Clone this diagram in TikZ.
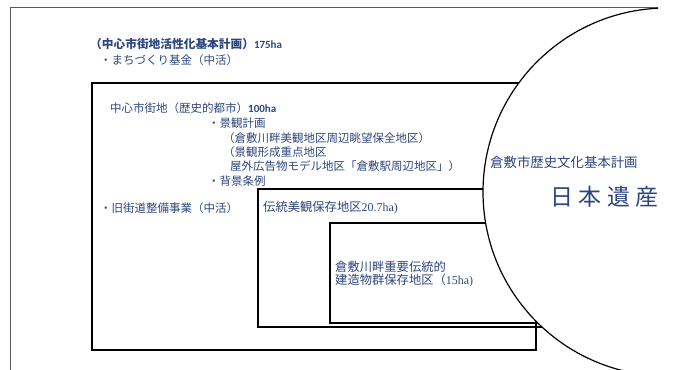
\documentclass[tikz,border=0pt]{standalone}
\usepackage{fontspec}
\newfontfamily\jp{Noto Sans CJK JP}
\newfontfamily\lat{Carlito}
\newfontfamily\ser{Liberation Serif}
\definecolor{txt}{RGB}{45,70,125}
\definecolor{frame}{RGB}{90,90,90}
\begin{document}
\begin{tikzpicture}[x=1pt,y=-1pt,
  lbl/.style={anchor=west, inner sep=0pt, text=txt, font=\jp\fontsize{11.5}{13}\selectfont},
  lblm/.style={lbl, font=\jp\fontsize{12.3}{14}\selectfont},
  box/.style={draw=black, line width=1.8pt},
  innerbox/.style={draw=black, line width=1.5pt}]
\newcommand\numtxt[1]{{\lat\bfseries\fontsize{11}{13}\selectfont #1}}
\useasboundingbox (0,0) rectangle (676,369);
\begin{scope}
\clip (0,0) rectangle (658,369);
\draw[draw=frame, line width=0.8pt] (10,380) -- (10,7) -- (700,7);
\draw[box] (92,83) rectangle (536,350);
\draw[innerbox] (258,189) rectangle (600,327);
\draw[innerbox] (330,223) rectangle (600,323);
\node[draw=black, circle, fill=white, line width=1.2pt, minimum size=368pt, inner sep=0pt, outer sep=0pt] (c) at (667,192) {};
\node[lbl, font=\jp\fontsize{13.4}{15}\selectfont] (rek) at (490,162) {倉敷市歴史文化基本計画};
\node[lbl, font=\jp\fontsize{23}{26}\selectfont] (nh) at (550,197) {日\hspace{5.5pt}本\hspace{5.5pt}遺\hspace{5.5pt}産};
\end{scope}
\node[lbl, font=\jp\bfseries\fontsize{11.7}{13}\selectfont] (t1) at (90,44) {（中心市街地活性化基本計画）\numtxt{175ha}};
\node[lbl] (t2) at (100,60) {・まちづくり基金（中活）};
\node[lbl] (t3) at (110,108) {中心市街地（歴史的都市）\numtxt{100ha}};
\node[lbl] (t4) at (208,123) {・景観計画};
\node[lbl] (t5) at (223,138) {（倉敷川畔美観地区周辺眺望保全地区）};
\node[lbl] (t6) at (223,152) {（景観形成重点地区};
\node[lbl] (t7) at (230,166) {屋外広告物モデル地区「倉敷駅周辺地区」）};
\node[lbl] (t8) at (208,181) {・背景条例};
\node[lbl] (t9) at (100,208) {・旧街道整備事業（中活）};
\node[lblm] (t10) at (263,208) {伝統美観保存地区{\ser\fontsize{12}{14}\selectfont 20.7ha)}};
\node[lblm] (t11) at (335,267) {倉敷川畔重要伝統的};
\node[lblm] (t12) at (335,281) {建造物群保存地区（{\ser\fontsize{12}{14}\selectfont 15ha)}};
\end{tikzpicture}
\end{document}
